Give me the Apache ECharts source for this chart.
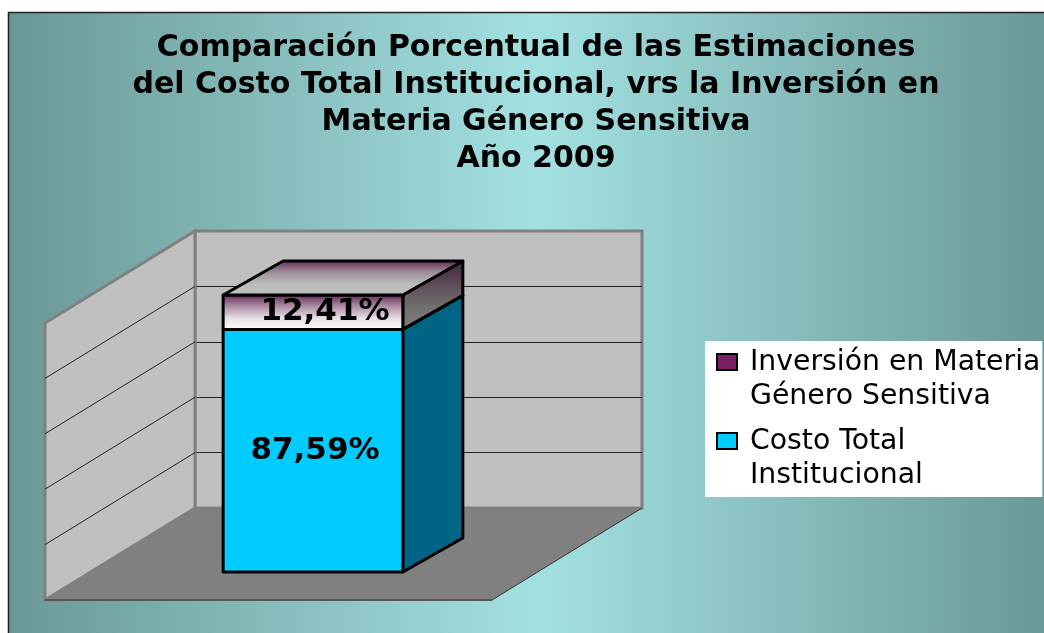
<!DOCTYPE html>
<html>
<head>
<meta charset="utf-8">
<style>
  html, body { margin: 0; padding: 0; background: #fff; }
  #chart { width: 1044px; height: 633px; }
</style>
<script src="https://cdn.jsdelivr.net/npm/echarts@6/dist/echarts.min.js"></script>
</head>
<body>
<div id="chart"></div>
<script>
const categories = ['Año 2009']
const costoTotal = [87.59]
const inversionGenero = [12.41]
const yTicks = [0, 20, 40, 60, 80, 100]
const seriesNames = ['Costo Total\nInstitucional', 'Inversión en Materia\nGénero Sensitiva']
const titleText = 'Comparación Porcentual de las Estimaciones\ndel Costo Total Institucional, vrs la Inversión en\nMateria Género Sensitiva\nAño 2009'

// fake 3D: offsets from the back wall plane
const wallDepth = [-150, 92]
const barFront = [-105.5, 64]
const barBack = [-45.5, 30]
const barShare = 0.402

function shift(p, d) {
  return [p[0] + d[0], p[1] + d[1]]
}

function poly(points, style) {
  return { type: 'polygon', shape: { points: points }, style: style }
}

function vGrad(stops) {
  return { type: 'linear', x: 0, y: 0, x2: 0, y2: 1, colorStops: stops.map(function (c, i) {
    return { offset: i / (stops.length - 1), color: c }
  }) }
}

function renderWalls(params, api) {
  const tick = api.value(0)
  const cs = params.coordSys
  const left = cs.x
  const right = cs.x + cs.width
  const y = api.coord([0, tick])[1]
  const children = []
  if (params.dataIndex === 0) {
    const bl = [left, cs.y + cs.height]
    const tl = [left, cs.y]
    const br = [right, cs.y + cs.height]
    children.push(poly([tl, bl, shift(bl, wallDepth), shift(tl, wallDepth)], { fill: '#c0c0c0', stroke: '#808080', lineWidth: 3 }))
    children.push(poly([bl, br, shift(br, wallDepth), shift(bl, wallDepth)], { fill: '#808080' }))
    children.push({ type: 'line', shape: { x1: br[0], y1: br[1], x2: br[0] + wallDepth[0], y2: br[1] + wallDepth[1] }, style: { stroke: '#333', lineWidth: 1 } })
    children.push({ type: 'line', shape: { x1: bl[0] + wallDepth[0], y1: bl[1] + wallDepth[1], x2: br[0] + wallDepth[0], y2: br[1] + wallDepth[1] }, style: { stroke: '#555', lineWidth: 2 } })
  } else if (tick < yTicks[yTicks.length - 1]) {
    children.push({ type: 'line', shape: { x1: left, y1: y, x2: left + wallDepth[0], y2: y + wallDepth[1] }, style: { stroke: '#222', lineWidth: 1 } })
  }
  return { type: 'group', children: children }
}

function barRenderer(colors, labelDx, withTop) {
  return function (params, api) {
    const w = api.size([1, 0])[0] * barShare
    const start = api.coord([api.value(0), api.value(1)])
    const end = api.coord([api.value(0), api.value(2)])
    const edge = { stroke: '#000', lineWidth: 3, lineJoin: 'round' }
    const fl = shift([start[0] - w / 2, start[1]], barFront)
    const fr = shift([start[0] + w / 2, start[1]], barFront)
    const tl = shift([end[0] - w / 2, end[1]], barFront)
    const tr = shift([end[0] + w / 2, end[1]], barFront)
    const backOff = [barBack[0] - barFront[0], barBack[1] - barFront[1]]
    const children = [
      poly([tr, fr, shift(fr, backOff), shift(tr, backOff)], Object.assign({ fill: colors.side }, edge)),
      poly([tl, tr, fr, fl], Object.assign({ fill: colors.front }, edge))
    ]
    if (withTop) {
      children.push(poly([tl, tr, shift(tr, backOff), shift(tl, backOff)], Object.assign({ fill: colors.top }, edge)))
    }
    children.push({
      type: 'text',
      style: {
        text: (api.value(2) - api.value(1)).toFixed(2).replace('.', ',') + '%',
        x: (tl[0] + tr[0]) / 2 + labelDx,
        y: (tl[1] + fl[1]) / 2,
        align: 'center',
        verticalAlign: 'middle',
        fill: '#000',
        font: 'bold 31px "DejaVu Sans"'
      }
    })
    return { type: 'group', children: children }
  }
}

const chart = echarts.init(document.getElementById('chart'))
chart.setOption({
  animation: false,
  graphic: [{
    type: 'rect',
    z: -10,
    shape: { x: 8.5, y: 12.5, width: 1040, height: 625 },
    style: {
      fill: {
        type: 'linear', x: 0, y: 0, x2: 1, y2: 0,
        colorStops: [
          { offset: 0, color: '#6a9896' },
          { offset: 0.51, color: '#a3e1e1' },
          { offset: 1, color: '#6a9896' }
        ]
      },
      stroke: '#222',
      lineWidth: 1.5
    }
  }],
  title: {
    text: titleText,
    left: 531,
    top: 25,
    textAlign: 'center',
    textStyle: {
      color: '#000',
      fontFamily: 'DejaVu Sans',
      fontWeight: 'bold',
      fontSize: 30,
      lineHeight: 37
    }
  },
  legend: {
    left: 705,
    top: 341,
    orient: 'vertical',
    data: [seriesNames[1], seriesNames[0]],
    backgroundColor: '#fff',
    padding: [5, 2, 4, 11],
    itemGap: 11,
    itemWidth: 28,
    itemHeight: 68,
    // square sits next to the first text line, the trailing move keeps the box 2 lines tall
    icon: 'path://M0,16H20V32H0Z M28,68',
    selectedMode: false,
    textStyle: {
      color: '#000',
      fontFamily: 'DejaVu Sans',
      fontSize: 28.3,
      lineHeight: 34
    }
  },
  grid: {
    left: 195,
    right: 402,
    top: 231,
    bottom: 125,
    show: true,
    backgroundColor: '#c0c0c0',
    borderColor: '#808080',
    borderWidth: 3
  },
  xAxis: {
    type: 'category',
    data: categories,
    axisLine: { show: false },
    axisTick: { show: false },
    axisLabel: { show: false }
  },
  yAxis: {
    type: 'value',
    min: 0,
    max: 100,
    interval: 20,
    axisLine: { show: false },
    axisTick: { show: false },
    axisLabel: { show: false },
    splitLine: { showMinLine: false, showMaxLine: false, lineStyle: { color: '#222', width: 1 } }
  },
  series: [{
    name: 'walls',
    type: 'custom',
    silent: true,
    z: 1,
    data: yTicks.map(function (t) { return [t] }),
    encode: { y: 0 },
    renderItem: renderWalls
  }, {
    name: seriesNames[0],
    type: 'custom',
    z: 2,
    itemStyle: { color: '#00ccff', borderColor: '#000', borderWidth: 2 },
    data: costoTotal.map(function (v, i) { return [i, 0, v] }),
    encode: { x: 0, y: [1, 2] },
    renderItem: barRenderer({ front: '#00ccff', side: '#006485' }, 2, false)
  }, {
    name: seriesNames[1],
    type: 'custom',
    z: 3,
    itemStyle: { color: '#7b1f62', borderColor: '#000', borderWidth: 2 },
    data: inversionGenero.map(function (v, i) { return [i, costoTotal[i], costoTotal[i] + v] }),
    encode: { x: 0, y: [1, 2] },
    renderItem: barRenderer({
      front: vGrad(['#5f1f50', '#a98aa2', '#e8e0e6', '#ffffff']),
      side: vGrad(['#43203c', '#5c4a58', '#707070', '#808080']),
      top: vGrad(['#5f1f50', '#9c8c98', '#bcbcbc', '#c0c0c0'])
    }, 12, true)
  }]
})
</script>
</body>
</html>
